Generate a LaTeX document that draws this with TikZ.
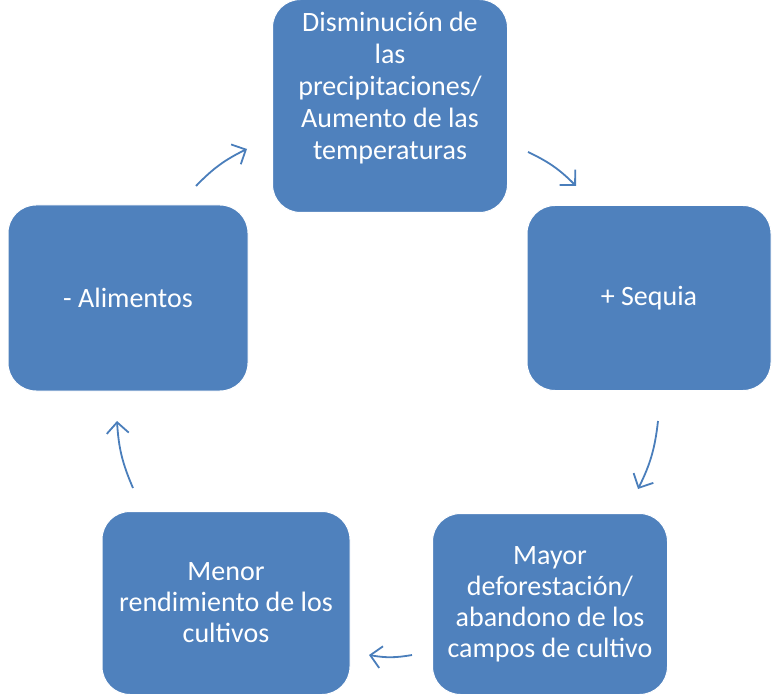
\documentclass[tikz,border=0pt]{standalone}
\usepackage{fontspec}
\setmainfont{Carlito}
\usepackage{xcolor}
\usetikzlibrary{arrows.meta}
\definecolor{cajaazul}{HTML}{4F81BD}
\definecolor{flechaazul}{HTML}{4A7EBB}

\begin{document}
\begin{tikzpicture}[x=1pt,y=-1pt,
		caja/.style={fill=cajaazul,draw=white,line width=1pt,rounded corners=28pt,text=white,align=center,font=\fontsize{28}{31}\selectfont},
		texto/.style={text=white,align=center,font=\fontsize{28}{32}\selectfont},
		flecha/.style={draw=flechaazul,line width=1.8pt,-{Straight Barb[length=11pt,width=22pt]},bend left=10}]
			\useasboundingbox (0,0) rectangle (776,700);
			\node[caja,minimum width=235pt,minimum height=213pt] (precip) at (390,106) {};
			\node[texto] (precipt) at (390,88) {Disminución de\\las\\precipitaciones/\\Aumento de las\\temperaturas};
			\node[caja,minimum width=244pt,minimum height=185pt] (sequia) at (649,298) {+ Sequia};
			\node[caja,minimum width=235pt,minimum height=181pt] (defor) at (550,604) {Mayor\\deforestación/\\abandono de los\\campos de cultivo};
			\node[caja,minimum width=248pt,minimum height=183pt] (rendim) at (226,603) {Menor\\rendimiento de los\\cultivos};
			\node[caja,minimum width=240pt,minimum height=186pt] (alim) at (128,298) {- Alimentos};
			\coordinate (f1a) at (196,186);
			\coordinate (f1b) at (247,149);
			\coordinate (f2a) at (528,152);
			\coordinate (f2b) at (576,186);
			\coordinate (f3a) at (658,421);
			\coordinate (f3b) at (638,489);
			\coordinate (f4a) at (412,655);
			\coordinate (f4b) at (369,655);
			\coordinate (f5a) at (133,488);
			\coordinate (f5b) at (117,421);
			\draw[flecha] (f1a) to (f1b);
			\draw[flecha] (f2a) to (f2b);
			\draw[flecha] (f3a) to (f3b);
			\draw[flecha] (f4a) to (f4b);
			\draw[flecha] (f5a) to (f5b);
		\end{tikzpicture}
\end{document}
